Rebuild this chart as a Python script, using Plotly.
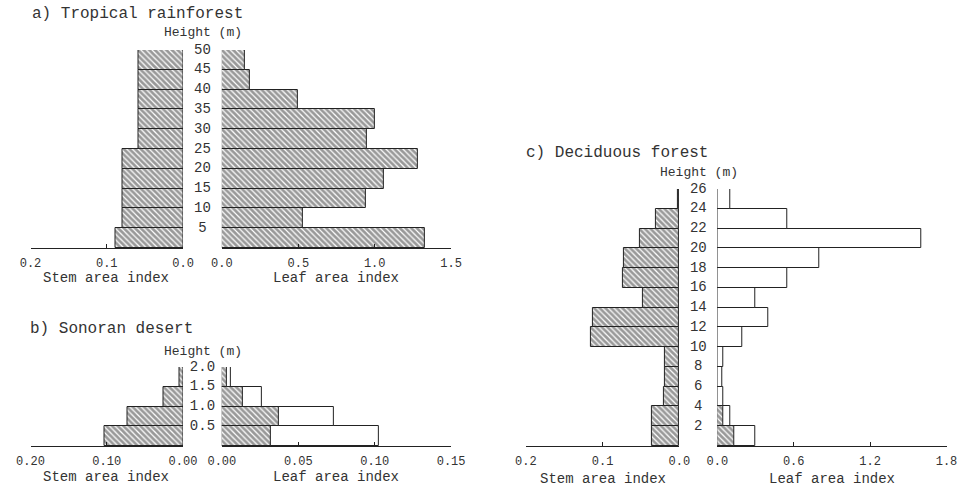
import plotly.graph_objects as go

# ---------------- data (bottom bin to top bin) ----------------
# a) Tropical rainforest, 5 m bins 0-50 m
height_a_top = [5, 10, 15, 20, 25, 30, 35, 40, 45, 50]
stem_a = [0.089, 0.079, 0.079, 0.079, 0.079, 0.059, 0.059, 0.059, 0.059, 0.059]
leaf_a = [1.33, 0.53, 0.94, 1.06, 1.28, 0.95, 1.00, 0.50, 0.18, 0.15]
height_a_labels = ["5", "10", "15", "20", "25", "30", "35", "40", "45", "50"]

# b) Sonoran desert, 0.5 m bins 0-2 m
height_b_top = [0.5, 1.0, 1.5, 2.0]
stem_b = [0.103, 0.073, 0.025, 0.005]
leaf_b_total = [0.103, 0.073, 0.026, 0.006]
leaf_b_hatched = [0.032, 0.037, 0.014, 0.003]
height_b_labels = ["0.5", "1.0", "1.5", "2.0"]

# c) Deciduous forest, 2 m bins 0-26 m
height_c_top = [2, 4, 6, 8, 10, 12, 14, 16, 18, 20, 22, 24, 26]
stem_c = [0.036, 0.036, 0.020, 0.019, 0.019, 0.115, 0.113, 0.048, 0.074, 0.072, 0.052, 0.031, 0.002]
leaf_c_total = [0.30, 0.10, 0.048, 0.043, 0.046, 0.20, 0.40, 0.30, 0.55, 0.80, 1.60, 0.55, 0.10]
leaf_c_hatched = [0.137, 0.05, 0, 0, 0, 0, 0, 0, 0, 0, 0, 0, 0]
height_c_labels = ["2", "4", "6", "8", "10", "12", "14", "16", "18", "20", "22", "24", "26"]

stem_ticks_a = [0.2, 0.1, 0.0]; stem_text_a = ["0.2", "0.1", "0.0"]
leaf_ticks_a = [0.0, 0.5, 1.0, 1.5]; leaf_text_a = ["0.0", "0.5", "1.0", "1.5"]
stem_ticks_b = [0.2, 0.1, 0.0]; stem_text_b = ["0.20", "0.10", "0.00"]
leaf_ticks_b = [0.0, 0.05, 0.10, 0.15]; leaf_text_b = ["0.00", "0.05", "0.10", "0.15"]
stem_ticks_c = [0.2, 0.1, 0.0]; stem_text_c = ["0.2", "0.1", "0.0"]
leaf_ticks_c = [0.0, 0.6, 1.2, 1.8]; leaf_text_c = ["0.0", "0.6", "1.2", "1.8"]

# ---------------- styling ----------------
W, H = 978, 491
FONT = "Liberation Mono"
TXT = "#333333"
LINE = "#222222"
HATCH = dict(shape="\\", size=4, solidity=0.7, fgcolor="#333333", bgcolor="white", fillmode="overlay")


def fx(px):
    return px / W


def fy(py):
    return 1 - py / H


def centers(tops, width):
    return [t - width / 2 for t in tops]


fig = go.Figure()

panels = [
    dict(id=1, stem=(17, 174), mid=(174, 214), leaf=(214, 450), ypx=(248, 50), yr=[0, 50], bw=5,
         tops=height_a_top, stem_v=stem_a, leaf_tot=None, leaf_h=leaf_a, labels=height_a_labels,
         sr=[0.2, 0], lr=[0, 1.5], st=(stem_ticks_a, stem_text_a), lt=(leaf_ticks_a, leaf_text_a)),
    dict(id=2, stem=(17, 174), mid=(174, 214), leaf=(214, 450), ypx=(446, 367), yr=[0, 2], bw=0.5,
         tops=height_b_top, stem_v=stem_b, leaf_tot=leaf_b_total, leaf_h=leaf_b_hatched, labels=height_b_labels,
         sr=[0.2, 0], lr=[0, 0.15], st=(stem_ticks_b, stem_text_b), lt=(leaf_ticks_b, leaf_text_b)),
    dict(id=3, stem=(527, 685), mid=(685, 724), leaf=(724, 960), ypx=(446, 189), yr=[0, 26], bw=2,
         tops=height_c_top, stem_v=stem_c, leaf_tot=leaf_c_total, leaf_h=leaf_c_hatched, labels=height_c_labels,
         sr=[0.2, 0], lr=[0, 1.8], st=(stem_ticks_c, stem_text_c), lt=(leaf_ticks_c, leaf_text_c)),
]

layout = {}
for p in panels:
    i = p["id"]
    xs, xm, xl = 3 * i - 2, 3 * i - 1, 3 * i
    yname = "y" if i == 1 else f"y{i}"
    yk = "yaxis" if i == 1 else f"yaxis{i}"
    cy = centers(p["tops"], p["bw"])

    def xa(n):
        return "x" if n == 1 else f"x{n}"

    def xk(n):
        return "xaxis" if n == 1 else f"xaxis{n}"

    layout[yk] = dict(domain=[fy(p["ypx"][0]), fy(p["ypx"][1])], range=p["yr"], visible=False,
                      fixedrange=True)
    common = dict(anchor=yname, showline=True, linecolor=LINE, linewidth=1, ticks="inside",
                  ticklen=4, tickcolor=LINE, showgrid=False, zeroline=False,
                  tickfont=dict(family=FONT, size=12, color=TXT), ticklabelstandoff=4)
    layout[xk(xs)] = dict(domain=[fx(p["stem"][0]), fx(p["stem"][1])], range=p["sr"],
                          tickvals=p["st"][0], ticktext=p["st"][1], **common)
    layout[xk(xl)] = dict(domain=[fx(p["leaf"][0]), fx(p["leaf"][1])], range=p["lr"],
                          tickvals=p["lt"][0], ticktext=p["lt"][1], **common)
    layout[xk(xm)] = dict(domain=[fx(p["mid"][0]), fx(p["mid"][1])], range=[-1, 1],
                          anchor=yname, visible=False)

    fig.add_trace(go.Bar(orientation="h", x=p["stem_v"], y=cy, width=p["bw"],
                         xaxis=xa(xs), yaxis=yname,
                         marker=dict(color="white", pattern=HATCH, line=dict(color=LINE, width=1)),
                         showlegend=False, hoverinfo="x+y"))
    if p["leaf_tot"] is not None:
        fig.add_trace(go.Bar(orientation="h", x=p["leaf_tot"], y=cy, width=p["bw"],
                             xaxis=xa(xl), yaxis=yname,
                             marker=dict(color="white", line=dict(color=LINE, width=1)),
                             showlegend=False, hoverinfo="x+y"))
    fig.add_trace(go.Bar(orientation="h", x=p["leaf_h"], y=cy, width=p["bw"],
                         xaxis=xa(xl), yaxis=yname,
                         marker=dict(color="white", pattern=HATCH, line=dict(color=LINE, width=1)),
                         showlegend=False, hoverinfo="x+y"))
    fig.add_trace(go.Scatter(x=[0] * len(p["tops"]), y=p["tops"], text=p["labels"], mode="text",
                             textposition="middle center", xaxis=xa(xm), yaxis=yname,
                             textfont=dict(family=FONT, size=14, color=TXT), cliponaxis=False,
                             showlegend=False, hoverinfo="skip"))

annotations = []


def ann(text, px, py, size, xanchor="center"):
    annotations.append(dict(text=text, x=fx(px), y=fy(py), xref="paper", yref="paper",
                            xanchor=xanchor, yanchor="middle", showarrow=False,
                            font=dict(family=FONT, size=size, color=TXT)))


ann("a) Tropical rainforest", 16, 14, 16, "left")
ann("b) Sonoran desert", 14, 329, 16, "left")
ann("c) Deciduous forest", 525, 153, 16, "left")
ann("Height (m)", 195, 33, 13)
ann("Height (m)", 195, 351, 13)
ann("Height (m)", 705, 173, 13)
ann("Stem area index", 95, 278, 14)
ann("Leaf area index", 332, 278, 14)
ann("Stem area index", 95, 477, 14)
ann("Leaf area index", 332, 477, 14)
ann("Stem area index", 606, 479, 14)
ann("Leaf area index", 842, 479, 14)

fig.update_layout(width=W, height=H, margin=dict(l=0, r=0, t=0, b=0),
                  paper_bgcolor="white", plot_bgcolor="rgba(0,0,0,0)",
                  barmode="overlay", bargap=0, annotations=annotations, **layout)

fig.write_html("out.html", config={"displayModeBar": False},
               post_script="document.body.style.margin='0';document.body.style.overflow='hidden';")
